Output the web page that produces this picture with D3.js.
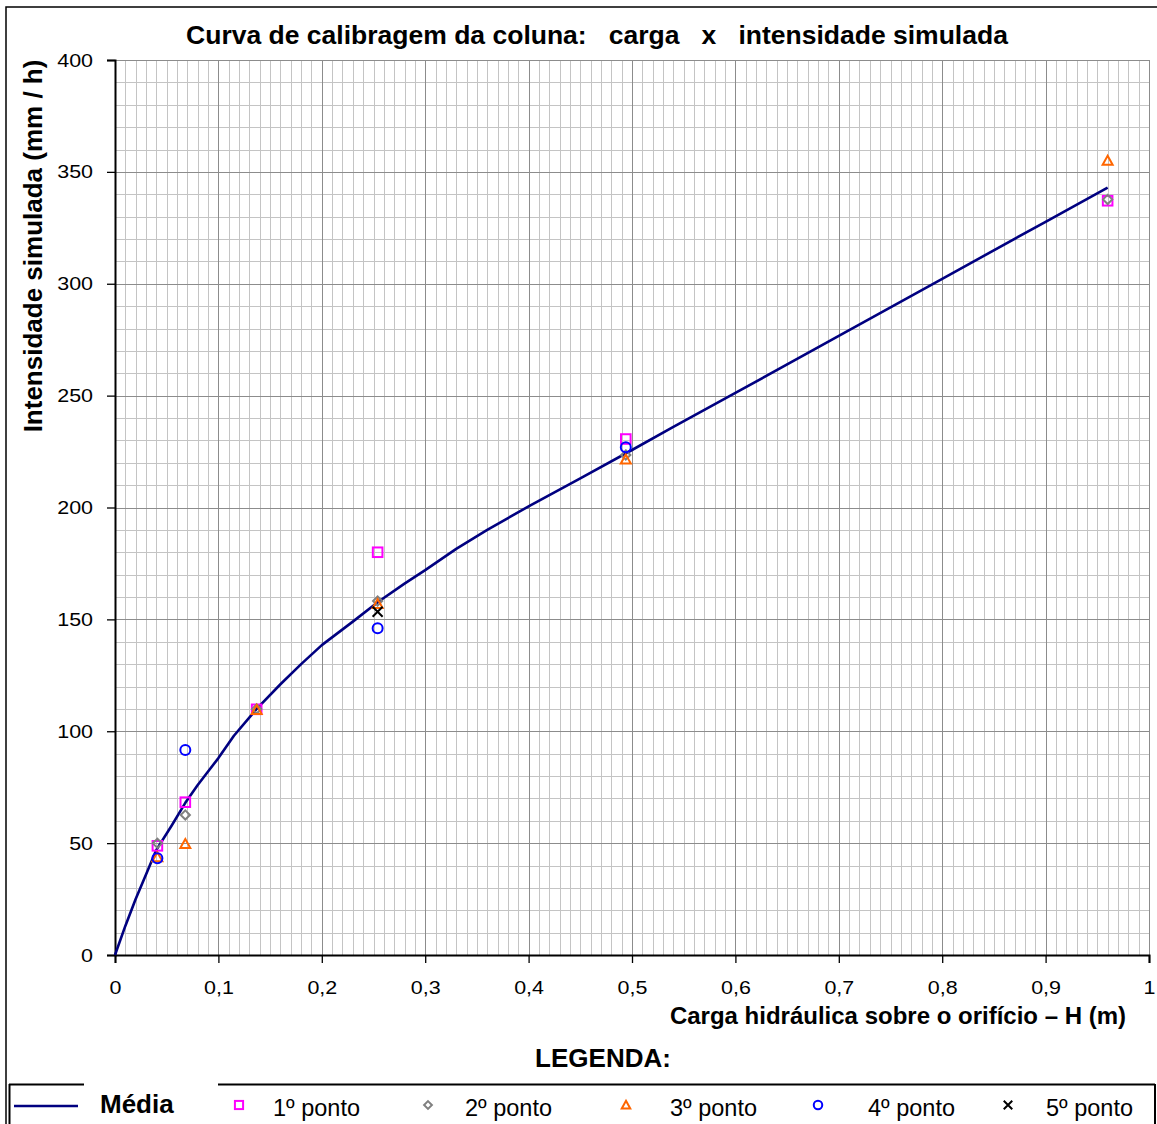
<!DOCTYPE html>
<html><head><meta charset="utf-8">
<script src="https://cdn.jsdelivr.net/npm/d3@7"></script>
<style>
body{margin:0;background:#fff}
svg{display:block;font-family:Arial,"Liberation Sans",sans-serif}
</style>
</head><body>
<svg id="c" width="1157" height="1124"></svg>
<script>
// ---- data ----
const meanH = [0, 0.01, 0.02, 0.03, 0.04, 0.055, 0.068, 0.08, 0.09, 0.1, 0.115, 0.137, 0.16, 0.18, 0.2, 0.23, 0.255, 0.28, 0.3, 0.33, 0.36, 0.4, 0.45, 0.5, 0.54, 0.6, 0.7, 0.8, 0.9, 0.96];
const meanV = [0, 13, 25, 36, 47, 58, 68, 76, 82, 88, 98, 110, 121, 130, 138.5, 149, 158, 166, 172, 181.5, 190, 200.5, 213, 225.7, 236, 251.2, 276.7, 302.2, 327.7, 343];
const pointH = [0.041, 0.068, 0.137, 0.254, 0.494, 0.96];
const ponto1 = [48.8, 68.3, 109.8, 180.0, 230.6, 337.1];
const ponto2 = [49.9, 62.6, 110, 158.2, 223.5, 337.7];
const ponto3 = [43.7, 49.6, 109.5, 156.9, 221.5, 355];
const ponto4 = [43.2, 91.6, null, 146, 226.9, null];
const ponto5 = [null, null, null, 153.4, null, null];
const seriesNames = ["Média", "1º ponto", "2º ponto", "3º ponto", "4º ponto", "5º ponto"];
const xTickValues = [0, 0.1, 0.2, 0.3, 0.4, 0.5, 0.6, 0.7, 0.8, 0.9, 1];
const xTickLabels = ["0", "0,1", "0,2", "0,3", "0,4", "0,5", "0,6", "0,7", "0,8", "0,9", "1"];
const yTickValues = [0, 50, 100, 150, 200, 250, 300, 350, 400];
const yTickLabels = ["0", "50", "100", "150", "200", "250", "300", "350", "400"];
const titleText = "Curva de calibragem da coluna:   carga   x   intensidade simulada";
const yTitle = "Intensidade simulada (mm / h)";
const xTitle = "Carga hidráulica sobre o orifício – H (m)";
const legendTitle = "LEGENDA:";

// ---- layout ----
const svg = d3.select("#c");
const L = 115, R = 1149, T = 60, B = 955;
const x = d3.scaleLinear().domain([0, 1]).range([L, R]);
const y = d3.scaleLinear().domain([0, 400]).range([B, T]);
const px = v => Math.round(x(v)) + 0.5;
const py = v => Math.round(y(v)) + 0.5;

function stretch(sel, k) {
  sel.each(function () {
    const w = this.getComputedTextLength();
    d3.select(this).attr("textLength", w * k).attr("lengthAdjust", "spacingAndGlyphs");
  });
}

// outer border
svg.append("rect").attr("x", 6).attr("y", 7).attr("width", 1170).attr("height", 1140)
  .attr("fill", "none").attr("stroke", "#000").attr("stroke-width", 1.5);

// grid
const g = svg.append("g");
const minorX = x.ticks(100), minorY = y.ticks(40);
g.selectAll(".mx").data(minorX.filter(d => Math.round(d * 100) % 10 !== 0)).join("line")
  .attr("x1", d => px(d)).attr("x2", d => px(d)).attr("y1", T).attr("y2", B)
  .attr("stroke", "#c4c4c4").attr("stroke-width", 1);
g.selectAll(".my").data(minorY.filter(d => d % 50 !== 0)).join("line")
  .attr("y1", d => py(d)).attr("y2", d => py(d)).attr("x1", L).attr("x2", R)
  .attr("stroke", "#c4c4c4").attr("stroke-width", 1);
g.selectAll(".Mx").data(xTickValues).join("line")
  .attr("x1", d => px(d)).attr("x2", d => px(d)).attr("y1", T).attr("y2", B)
  .attr("stroke", "#8c8c8c").attr("stroke-width", 1);
g.selectAll(".My").data(yTickValues).join("line")
  .attr("y1", d => py(d)).attr("y2", d => py(d)).attr("x1", L).attr("x2", R)
  .attr("stroke", "#8c8c8c").attr("stroke-width", 1);

// axes
const yAxis = d3.axisLeft(y).tickValues(yTickValues).tickFormat((d, i) => yTickLabels[i]).tickSize(8).tickPadding(14);
const xAxis = d3.axisBottom(x).tickValues(xTickValues).tickFormat((d, i) => xTickLabels[i]).tickSize(8).tickPadding(18);
const ya = svg.append("g").attr("transform", `translate(${L},0)`).call(yAxis);
const xa = svg.append("g").attr("transform", `translate(0,${B})`).call(xAxis);
[ya, xa].forEach(a => {
  a.select(".domain").attr("stroke", "#000").attr("stroke-width", 2);
  a.selectAll(".tick line").attr("stroke", "#000").attr("stroke-width", 1.3);
  a.selectAll("text").attr("font-size", 19).attr("fill", "#000").attr("font-family", "Arial, 'Liberation Sans', sans-serif");
  stretch(a.selectAll("text"), 1.13);
});

// titles
svg.append("text").attr("x", 597).attr("y", 44).attr("text-anchor", "middle")
  .attr("font-size", 26.5).attr("font-weight", "bold").style("white-space", "pre").text(titleText);
svg.append("text").attr("transform", "translate(42,246) rotate(-90)").attr("text-anchor", "middle")
  .attr("font-size", 26).attr("font-weight", "bold").text(yTitle);
svg.append("text").attr("x", 1126).attr("y", 1024).attr("text-anchor", "end")
  .attr("font-size", 24).attr("font-weight", "bold").text(xTitle);
svg.append("text").attr("x", 603).attr("y", 1067).attr("text-anchor", "middle")
  .attr("font-size", 26).attr("font-weight", "bold").text(legendTitle);

// mean line
const meanData = meanH.map((h, i) => [h, meanV[i]]);
svg.append("path").datum(meanData)
  .attr("d", d3.line().x(d => x(d[0])).y(d => y(d[1])))
  .attr("fill", "none").attr("stroke", "#000080").attr("stroke-width", 2.6).attr("stroke-linejoin", "round");

// marker drawers
const markers = [
  {vals: ponto1, color: "#FF00FF", draw: (s, k) => s.append("rect").attr("x", -4.8 * k).attr("y", -4.8 * k).attr("width", 9.6 * k).attr("height", 9.6 * k)},
  {vals: ponto2, color: "#808080", draw: (s, k) => s.append("path").attr("d", `M0,${-4.6 * k}L${4.6 * k},0L0,${4.6 * k}L${-4.6 * k},0Z`)},
  {vals: ponto3, color: "#FF6600", draw: (s, k) => s.append("path").attr("d", `M0,${-5 * k}L${5 * k},${4 * k}L${-5 * k},${4 * k}Z`)},
  {vals: ponto4, color: "#0000FF", draw: (s, k) => s.append("circle").attr("r", 5 * k)},
  {vals: ponto5, color: "#000000", draw: (s, k) => s.append("path").attr("d", `M${-5 * k},${-5 * k}L${5 * k},${5 * k}M${5 * k},${-5 * k}L${-5 * k},${5 * k}`)}
];
markers.forEach(m => {
  const pts = pointH.map((h, i) => [h, m.vals[i]]).filter(d => d[1] != null);
  pts.forEach(d => {
    const s = svg.append("g").attr("transform", `translate(${x(d[0])},${y(d[1])})`)
      .attr("fill", "none").attr("stroke", m.color).attr("stroke-width", 2);
    m.draw(s, 1);
  });
});

// legend box
const lg = svg.append("g");
lg.append("line").attr("x1", 9).attr("x2", 84).attr("y1", 1084.5).attr("y2", 1084.5).attr("stroke", "#000").attr("stroke-width", 2);
lg.append("line").attr("x1", 218).attr("x2", 1155).attr("y1", 1084.5).attr("y2", 1084.5).attr("stroke", "#000").attr("stroke-width", 2);
lg.append("line").attr("x1", 9.5).attr("x2", 9.5).attr("y1", 1084).attr("y2", 1124).attr("stroke", "#000").attr("stroke-width", 2);
lg.append("line").attr("x1", 1155).attr("x2", 1155).attr("y1", 1084).attr("y2", 1124).attr("stroke", "#000").attr("stroke-width", 2);

const ly = 1106;
lg.append("line").attr("x1", 14).attr("x2", 78).attr("y1", ly).attr("y2", ly).attr("stroke", "#000080").attr("stroke-width", 2.6);
lg.append("text").attr("x", 100).attr("y", ly + 7).attr("font-size", 26).attr("font-weight", "bold").text(seriesNames[0]);
const legMarkX = [239, 428, 626, 818, 1008];
const legTextX = [273, 465, 670, 868, 1046];
markers.forEach((m, i) => {
  const s = lg.append("g").attr("transform", `translate(${legMarkX[i]},${ly - 1})`)
    .attr("fill", "none").attr("stroke", m.color).attr("stroke-width", 2);
  m.draw(s, 0.85);
  lg.append("text").attr("x", legTextX[i]).attr("y", ly + 10).attr("font-size", 23.5).text(seriesNames[i + 1]);
});
</script>
</body></html>
